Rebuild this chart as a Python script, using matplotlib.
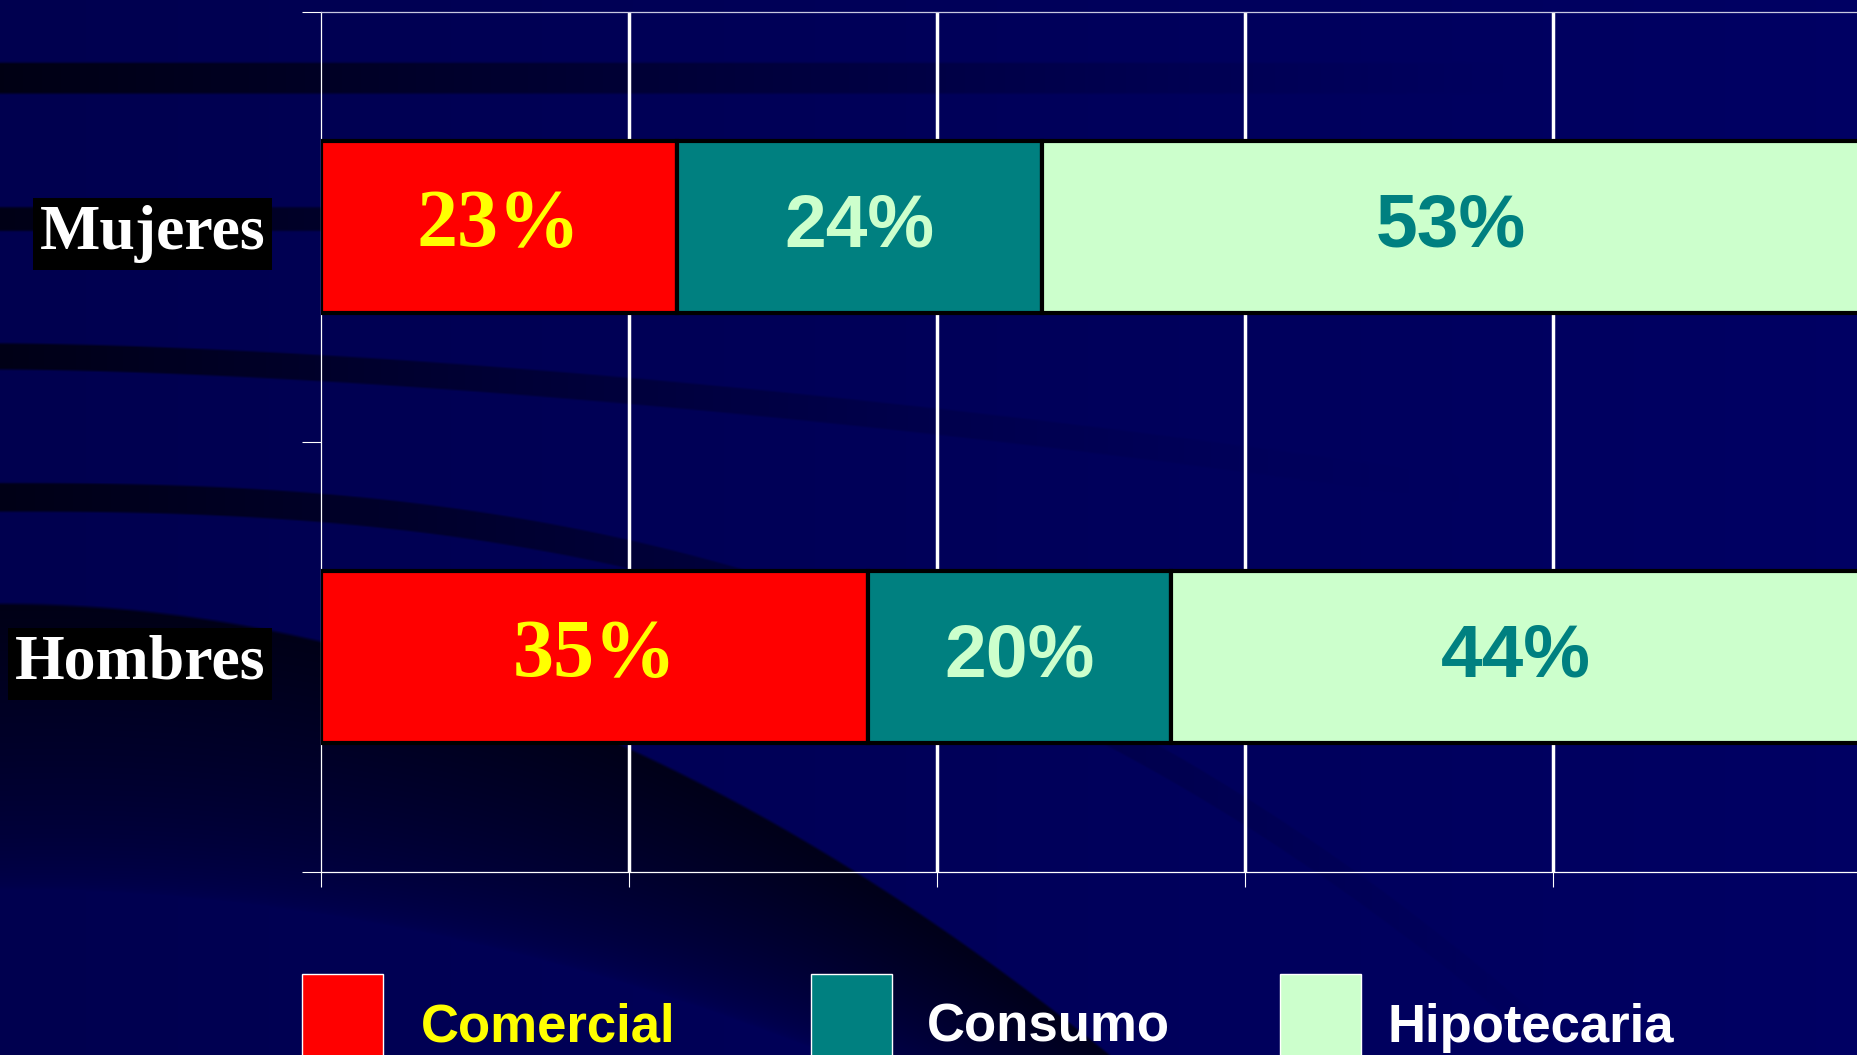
import numpy as np
import matplotlib
matplotlib.use("Agg")
import matplotlib.pyplot as plt
from matplotlib.patches import Patch
from matplotlib.font_manager import FontProperties

# ---------------- data ----------------
categories = ["Hombres", "Mujeres"]
series_names = ["Comercial", "Consumo", "Hipotecaria"]
comercial = [35.5, 23.1]
consumo = [19.7, 23.7]
hipotecaria = [44.8, 53.2]
comercial_labels = ["35%", "23%"]
consumo_labels = ["20%", "24%"]
hipotecaria_labels = ["44%", "53%"]
x_ticks = [0, 20, 40, 60, 80, 100]

# ---------------- styles ----------------
bar_colors = ["#FF0000", "#008080", "#CCFFCC"]
value_colors = ["#FFFF00", "#CCFFCC", "#008080"]
value_fonts = ["Liberation Serif", "Liberation Sans", "Liberation Sans"]
value_sizes = [59, 54, 54]
legend_text_colors = ["#FFFF00", "white", "white"]
legend_x_px = [302, 811, 1280]
legend_textpad = [0.72, 0.67, 0.50]

W_PX, H_PX = 1857, 1055
fig = plt.figure(figsize=(W_PX / 100, H_PX / 100), dpi=100)

# ---------------- background (decorative) ----------------
bw, bh = 1568, 891
X, Y = np.meshgrid(np.arange(bw) + 0.5, np.arange(bh) + 0.5)
base = 0.31 + 0.08 * X / bw
factor = np.ones_like(X)


def soft(d, half, edge=2.0):
    return np.clip((half - np.abs(d)) / edge + 0.5, 0, 1)


def fade(x_end, power):
    return np.clip(1 - X / x_end, 0, 1) ** power


bands = [
    (66 + 0 * X, 13, 0.75 * fade(1300, 1.3)),
    (185 + 0 * X, 10, 0.72 * fade(900, 1.0)),
    (301 + 1.27e-3 * X ** 1.6, 11, 0.72 * fade(1250, 1.6)),
    (420 + 7.4e-6 * X ** 2.5, 12, 0.72 * fade(1450, 1.5)),
]
for yc, half, strength in bands:
    factor *= 1 - strength * soft(Y - yc, half)

yu = 510 + 4.34e-4 * X ** 2
yl = 751 + 2.86e-4 * X ** 2
t = np.clip((Y - yu) / (yl - yu), 0, 1)
inside = np.clip((Y - yu) / 3 + 0.5, 0, 1)
factor *= 1 - 0.72 * inside * (1 - t) ** 0.6

img = np.zeros((bh, bw, 3))
img[..., 2] = base * factor

bg = fig.add_axes([0, 0, 1, 1], zorder=0)
bg.imshow(img, extent=(0, bw, bh, 0), aspect="auto", interpolation="bilinear")
bg.axis("off")

# ---------------- main axes ----------------
ax = fig.add_axes([321 / W_PX, 183.3 / H_PX, 1540 / W_PX, 859.9 / H_PX], zorder=1)
ax.patch.set_alpha(0)
ax.set_xlim(0, 100)
ax.set_ylim(-0.5, 1.5)

y = np.arange(len(categories))
left = np.zeros(len(categories))
all_vals = [comercial, consumo, hipotecaria]
all_labels = [comercial_labels, consumo_labels, hipotecaria_labels]
for vals, labs, col, vcol, vfont, vsize, name in zip(
        all_vals, all_labels, bar_colors, value_colors, value_fonts, value_sizes, series_names):
    bars = ax.barh(y, vals, left=left, height=0.4, color=col, edgecolor="black",
                   linewidth=3, zorder=3, label=name)
    ax.bar_label(bars, labels=labs, label_type="center", color=vcol,
                 fontfamily=vfont, fontweight="bold", fontsize=vsize, zorder=4)
    left = left + np.array(vals)

# grid and axes styling
ax.set_xticks(x_ticks)
ax.tick_params(axis="x", which="major", direction="out", length=11, width=0.8,
               color="white", labelbottom=False)
ax.grid(axis="x", color="white", linewidth=2.5, zorder=1)
ax.set_axisbelow(True)
ax.xaxis.get_gridlines()[0].set_visible(False)

ax.set_yticks(y)
ax.set_yticklabels(categories)
ax.set_yticks([-0.5, 0.5, 1.5], minor=True)
ax.tick_params(axis="y", which="major", length=0, pad=40)
ax.tick_params(axis="y", which="minor", direction="out", length=14, width=0.8, color="white")
for lbl in ax.get_yticklabels():
    lbl.set_fontfamily("Liberation Serif")
    lbl.set_fontweight("bold")
    lbl.set_fontsize(46)
    lbl.set_color("white")
    lbl.set_bbox(dict(facecolor="black", edgecolor="none", pad=5))

for side in ["left", "bottom", "top"]:
    ax.spines[side].set_color("white")
    ax.spines[side].set_linewidth(0.9)
ax.spines["top"].set_color("#C8C8E0")
ax.spines["right"].set_visible(False)

# ---------------- legend ----------------
legend_font = FontProperties(family="Liberation Sans", weight="bold", size=38)
for name, col, tcol, xp, tp in zip(series_names, bar_colors, legend_text_colors,
                                   legend_x_px, legend_textpad):
    leg = fig.legend(handles=[Patch(facecolor=col, edgecolor="white", linewidth=1)],
                     labels=[name], loc="upper left",
                     bbox_to_anchor=(xp / W_PX, 1 - 973.5 / H_PX),
                     frameon=False, borderpad=0, borderaxespad=0,
                     handlelength=1.53, handleheight=2.69, handletextpad=tp,
                     prop=legend_font)
    leg.get_texts()[0].set_color(tcol)
    leg.set_zorder(5)

fig.savefig("out.png", dpi=100)
